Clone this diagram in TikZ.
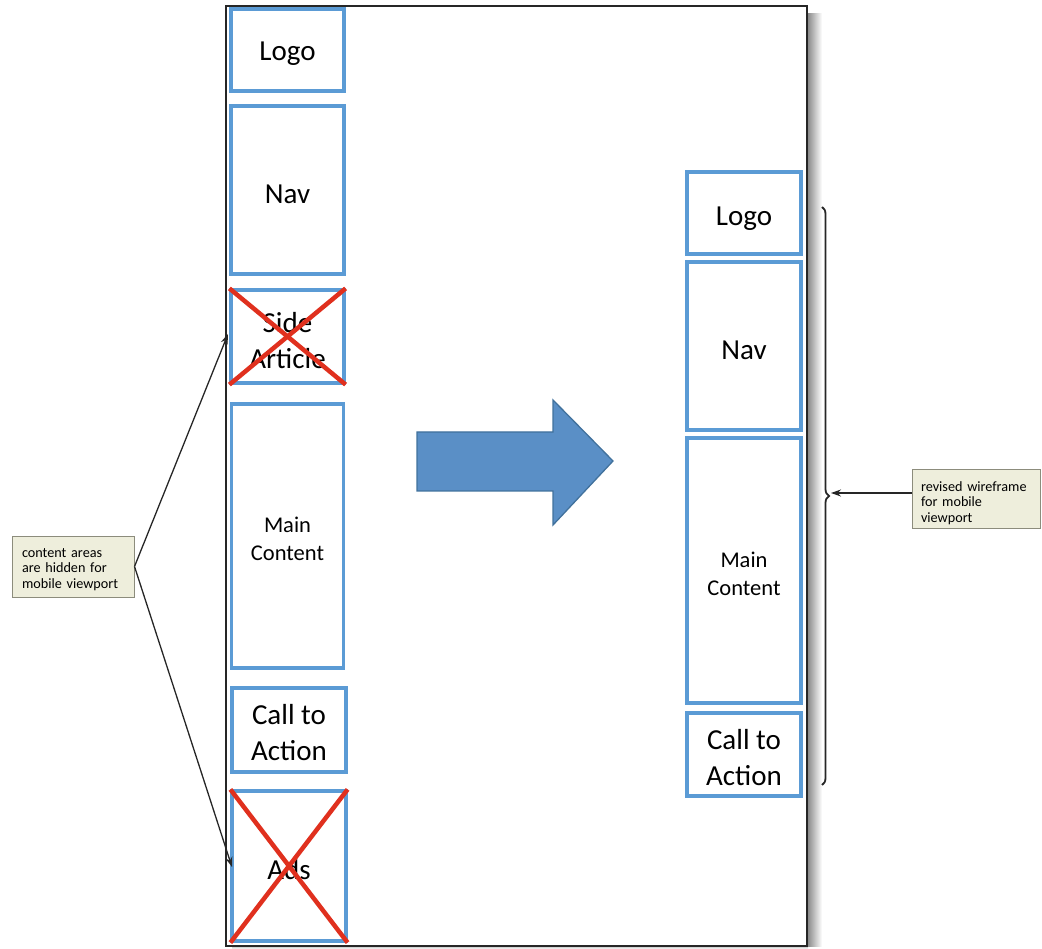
\documentclass[tikz,border=0pt]{standalone}
\usepackage{fontspec}
\setmainfont{Carlito}
\usetikzlibrary{decorations.pathreplacing,arrows.meta}
\definecolor{wfblue}{HTML}{5B9BD5}
\definecolor{xred}{HTML}{E0301E}
\definecolor{arrfill}{HTML}{5A8FC6}
\definecolor{arrline}{HTML}{41719C}
\definecolor{notefill}{HTML}{EEEEDC}
\definecolor{noteline}{HTML}{8C8C7C}
\newcommand{\dn}[1]{\raisebox{-4pt}[\height][\depth]{#1}}
\newcommand{\dnn}[1]{\raisebox{-3pt}[\height][\depth]{#1}}
\tikzset{
  wfbox/.style={draw=wfblue, line width=3.2pt, fill=white, inner sep=0pt, align=center, font=\fontsize{29}{36}\selectfont},
  smallbox/.style={wfbox, font=\fontsize{22.5}{28}\selectfont},
  cross/.style={draw=xred, line width=4.5pt},
  note/.style={draw=noteline, fill=notefill, line width=1pt, align=left, font=\fontsize{14.2}{15.6}\selectfont, inner sep=0pt},
  conn/.style={draw=black!85, line width=1.3pt, -{Stealth[length=10pt,width=7pt]}},
}
\begin{document}
\begin{tikzpicture}[x=1pt,y=-1pt]
\useasboundingbox (0,0) rectangle (1042,949);
% frame shadow
\shade[left color=black!45, right color=white] (808,14) rectangle (822,946);
\shade[top color=black!25, bottom color=white] (232,946) rectangle (808,949);
\node[draw=black!85, line width=1.6pt, minimum width=581pt, minimum height=940pt, inner sep=0pt] (frame) at (516.5,476) {};
% left column
\node[wfbox, minimum width=113pt, minimum height=82pt] (logoL) at (287.5,50) {\dn{Logo}};
\node[wfbox, minimum width=113pt, minimum height=168pt] (navL) at (287.5,190) {\dn{Nav}};
\node[wfbox, minimum width=113pt, minimum height=93pt] (side) at (287.5,336.5) {\dn{Side}\\\dn{Article}};
\node[smallbox, minimum width=112pt, minimum height=264pt] (mainL) at (287.5,536) {\dnn{Main}\\\dnn{Content}};
\node[wfbox, minimum width=114pt, minimum height=84pt] (ctaL) at (289,730) {\dnn{Call to}\\\dnn{Action}};
\node[wfbox, minimum width=114pt, minimum height=150pt] (ads) at (289,866) {\dn{Ads}};
\draw[cross] (side.north west) -- (side.south east);
\draw[cross] (side.south west) -- (side.north east);
\draw[cross] (ads.north west) -- (ads.south east);
\draw[cross] (ads.south west) -- (ads.north east);
% right column
\node[wfbox, minimum width=114pt, minimum height=82pt] (logoR) at (744,213) {\raisebox{-6pt}[\height][\depth]{Logo}};
\node[wfbox, minimum width=114pt, minimum height=168pt] (navR) at (744,346) {\dn{Nav}};
\node[smallbox, minimum width=114pt, minimum height=265pt] (mainR) at (744,570.5) {\dnn{Main}\\\dnn{Content}};
\node[wfbox, minimum width=114pt, minimum height=83pt] (ctaR) at (744,754.5) {\dnn{Call to}\\\dnn{Action}};
% big arrow
\draw[fill=arrfill, draw=arrline, line width=1.3pt] (417,432) -- (553,432) -- (553,400) -- (613,461) -- (553,525) -- (553,491) -- (417,491) -- cycle;
% brace
\coordinate (braceTop) at (822,207);
\coordinate (braceBot) at (822,785);
\draw[black!85, line width=1.8pt, decorate, decoration={brace, amplitude=7pt}] (braceTop) -- (braceBot);
\coordinate (braceTip) at (831,493);
% notes
\node[note, minimum width=122pt, minimum height=61pt, text width=102pt] (noteL) at (73,566.5) {\raggedright \dnn{content areas}\\\dnn{are hidden for}\\\dnn{mobile viewport}};
\node[note, minimum width=128pt, minimum height=58pt, text width=110pt] (noteR) at (976,499) {\raggedright \dn{revised wireframe}\\\dn{for mobile}\\\dn{viewport}};
\coordinate (tipSide) at (228,334);
\coordinate (tipAds) at (232,867);
\draw[conn] (noteL.east) -- (tipSide);
\draw[conn] (noteL.east) -- (tipAds);
\draw[conn] (noteR.west |- braceTip) -- (braceTip);
\end{tikzpicture}
\end{document}
